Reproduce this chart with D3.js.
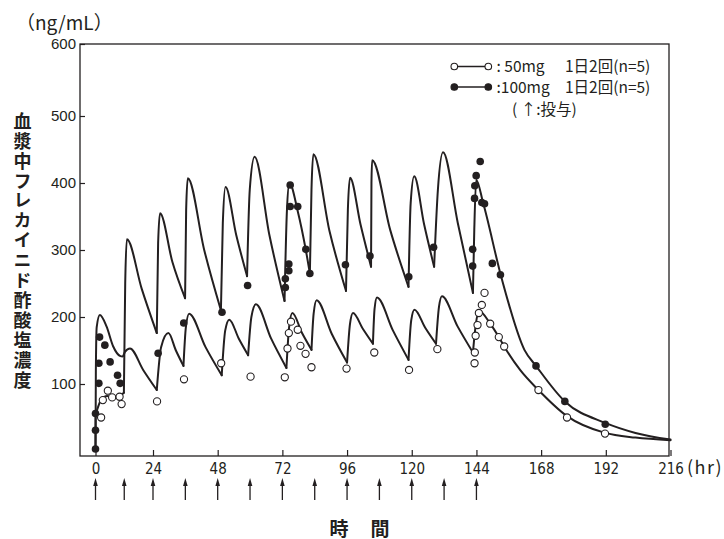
<!DOCTYPE html>
<html>
<head>
<meta charset="utf-8">
<script src="https://cdn.jsdelivr.net/npm/d3@7"></script>
<style>
  html, body { margin: 0; padding: 0; background: #fff; }
  svg { display: block; }
</style>
</head>
<body>
<div id="chart"></div>
<script>
// dosing times (hr) and axis ticks
const doseHours = [0, 12, 24, 36, 48, 60, 72, 84, 96, 108, 120, 132, 144]
const xTicks = [0, 24, 48, 72, 96, 120, 144, 168, 192, 216]
const yTicks = [100, 200, 300, 400, 500, 600]
const yTitle = "血漿中フレカイニド酢酸塩濃度"

// observed means [hr, ng/mL]
const obs50 = [
  [2.35, 50], [3.06, 76], [5.15, 90], [6.95, 80], [10.05, 81], [10.9, 70],
  [25.5, 74], [35.5, 107], [49.3, 131], [60.2, 111],
  [72.9, 110], [73.9, 153], [74.4, 176], [75.2, 193], [77.7, 181], [78.7, 157], [80.6, 145], [82.8, 125],
  [95.8, 123], [106.1, 147], [119, 121], [129.5, 152],
  [143.3, 131], [143.4, 147], [143.7, 172], [144.4, 188], [144.9, 206], [146, 218], [147, 236],
  [149.1, 190], [152.3, 170], [154.3, 156], [167, 91], [177.6, 50], [191.7, 26]
]
const obs100 = [
  [0, 3], [0, 31], [0, 56], [1.4, 101], [1.4, 131], [1.7, 170], [3.9, 158], [6.1, 133], [9.2, 113], [10.3, 101],
  [25.9, 146], [35.4, 191], [49.6, 207], [59.1, 247],
  [73.1, 244], [73.1, 257], [74.4, 269], [74.4, 279], [74.9, 365], [74.9, 397], [77.7, 365], [80.7, 301], [82.2, 265],
  [95.4, 278], [104.5, 291], [118.9, 260], [128.1, 304],
  [142.6, 276], [142.6, 301], [143.3, 377], [143.4, 396], [143.9, 411], [145.4, 432], [146, 371], [147, 369],
  [149.9, 280], [152.9, 263], [166.1, 127], [176.8, 74], [191.8, 40]
]

// simulated curves [hr, ng/mL]
const fit50 = [
  [0, 0], [0.15, 120], [0.5, 185], [1.8, 203], [4.6, 186], [7.4, 156], [10.2, 142], [11.3, 141], [12.3, 148], [14.4, 153], [19.9, 121],
  [25.4, 91], [27.0, 155], [29.7, 176], [32.5, 150],
  [35.3, 127], [36.2, 185], [37.4, 205], [43.5, 155],
  [49.5, 113], [50.8, 180], [52.3, 196], [55.8, 168],
  [59.3, 143], [60.5, 200], [62.2, 219], [67.8, 168],
  [73.5, 124], [74.5, 185], [75.7, 206], [79.3, 176],
  [82.8, 151], [83.6, 205], [84.7, 225], [90.3, 175],
  [96, 132], [97.1, 190], [98.2, 206], [101.9, 182],
  [105.6, 160], [106.2, 212], [107.1, 229], [113, 180],
  [118.8, 136], [119.8, 195], [121, 211], [125, 184],
  [129, 160], [130.1, 215], [131.2, 231], [137, 186],
  [142.7, 147], [143.8, 190], [145, 209], [149.1, 190], [152.3, 170], [154.3, 156], [160.2, 121],
  [167, 91], [177.6, 52], [191.7, 27], [203, 20], [216, 16]
]
const fit50Corners = [25.4, 35.3, 49.5, 59.3, 73.5, 82.8, 96, 105.6, 118.8, 129, 142.7]

const fit100 = [
  [0, 0], [0.05, 54], [2.3, 76], [4.9, 82], [7.2, 80], [10, 82],
  [11.85, 87], [12.4, 250], [13.1, 316], [19.3, 242],
  [25.4, 176], [25.9, 310], [26.6, 355], [31.2, 282],
  [35.9, 228], [36.3, 360], [36.9, 407], [43, 300],
  [49.2, 210], [49.9, 340], [50.9, 394], [54.9, 322],
  [58.9, 261], [59.9, 390], [61.7, 439], [67.2, 322],
  [72.8, 224], [73.7, 360], [74.6, 400], [77.7, 358], [80.7, 300],
  [82.2, 265], [82.8, 390], [83.5, 443], [89.5, 328],
  [95.6, 239], [96.3, 360], [97.1, 408], [101, 338],
  [104.9, 275], [105.05, 400], [105.3, 434], [112, 330],
  [118.8, 245], [119.6, 370], [120.9, 410], [124.6, 338],
  [128.3, 275], [129.7, 390], [131.6, 446], [137.1, 340],
  [142.7, 236], [143.2, 330], [143.9, 405], [146.5, 370], [153.2, 260], [161.8, 151], [166.3, 126],
  [176.8, 74], [191.8, 42], [203, 27], [216, 17]
]
const fit100Corners = [0.05, 11.85, 25.4, 35.9, 49.2, 58.9, 72.8, 82.2, 95.6, 104.9, 118.8, 128.3, 142.7]

const width = 724
const height = 539
const ink = "#231f20"
const numFont = "'Liberation Sans Narrow', 'DejaVu Sans Condensed', sans-serif"
const jpFont = "'Noto Sans CJK JP', 'Noto Sans', sans-serif"

const svg = d3.select("#chart").append("svg")
  .attr("width", width).attr("height", height)
  .attr("viewBox", `0 0 ${width} ${height}`)

const frame = { left: 80, right: 669, top: 44, bottom: 456 }

// the first 24 h are drawn a little compressed in the original
const x = d3.scaleLinear().domain([0, 24, 216]).range([95.5, 153, 670.5])
const y = d3.scaleLinear().domain([0, 500, 600]).range([451, 116, 44])

// axes (inward ticks)
svg.append("g")
  .attr("transform", `translate(0,${frame.bottom})`)
  .call(d3.axisBottom(x).tickValues(xTicks).tickSizeInner(-6).tickSizeOuter(0).tickPadding(7))
  .call(g => g.select(".domain").remove())
  .call(g => g.selectAll(".tick line").attr("stroke", ink).attr("stroke-width", 1.2))
  .call(g => g.selectAll(".tick text").attr("font-family", numFont).attr("font-size", 15).attr("fill", ink))

svg.append("g")
  .attr("transform", `translate(${frame.left},0)`)
  .call(d3.axisLeft(y).tickValues(yTicks).tickSizeInner(-5).tickSizeOuter(0).tickPadding(4))
  .call(g => g.select(".domain").remove())
  .call(g => g.selectAll(".tick line").attr("stroke", ink).attr("stroke-width", 1.2))
  .call(g => g.selectAll(".tick text").attr("font-family", "'Liberation Sans', Arial, sans-serif").attr("font-size", 15).attr("fill", ink))

svg.append("rect")
  .attr("x", frame.left).attr("y", frame.top)
  .attr("width", frame.right - frame.left).attr("height", frame.bottom - frame.top)
  .attr("fill", "none").attr("stroke", ink).attr("stroke-width", 1.3)

// curves: split at the dosing corners so the troughs stay sharp
function splitAt(points, corners) {
  const segs = []
  let cur = []
  points.forEach(p => {
    cur.push(p)
    if (corners.includes(p[0]) && cur.length > 1) {
      segs.push(cur)
      cur = [p]
    }
  })
  if (cur.length > 1) segs.push(cur)
  return segs
}

const line = d3.line()
  .x(d => x(d[0]))
  .y(d => y(d[1]))
  .curve(d3.curveMonotoneX)

const curves = svg.append("g").attr("fill", "none").attr("stroke", ink).attr("stroke-width", 2)
  .attr("stroke-linejoin", "round").attr("stroke-linecap", "round")
curves.selectAll("path.c50").data(splitAt(fit50, fit50Corners)).join("path").attr("class", "c50").attr("d", line)
curves.selectAll("path.c100").data(splitAt(fit100, fit100Corners)).join("path").attr("class", "c100").attr("d", line)

// observed points
svg.append("g").selectAll("circle")
  .data(obs100).join("circle")
  .attr("cx", d => x(d[0])).attr("cy", d => y(d[1])).attr("r", 3.8)
  .attr("fill", ink)

svg.append("g").selectAll("circle")
  .data(obs50).join("circle")
  .attr("cx", d => x(d[0])).attr("cy", d => y(d[1])).attr("r", 3.6)
  .attr("fill", "#fff").attr("stroke", ink).attr("stroke-width", 1.1)

// dosing arrows
const arrows = svg.append("g").attr("fill", ink).attr("stroke", ink)
arrows.selectAll("line").data(doseHours).join("line")
  .attr("x1", d => x(d)).attr("x2", d => x(d))
  .attr("y1", 484).attr("y2", 500).attr("stroke-width", 1.3)
arrows.selectAll("path").data(doseHours).join("path")
  .attr("stroke", "none")
  .attr("d", d => `M${x(d)},478L${x(d) + 2.3},486L${x(d) - 2.3},486Z`)

// axis titles
svg.append("text")
  .attr("x", 16).attr("y", 29.5)
  .attr("font-family", jpFont).attr("font-size", 19).attr("fill", ink)
  .text("（ng/mL）")

svg.append("text")
  .attr("x", 687).attr("y", 474)
  .attr("font-family", jpFont).attr("font-size", 18).attr("letter-spacing", 1.5).attr("fill", ink)
  .text("(hr)")

// vertical title, one column
svg.append("text")
  .attr("x", 22.5).attr("y", 112)
  .attr("writing-mode", "vertical-rl")
  .attr("letter-spacing", 1.9)
  .attr("font-family", jpFont).attr("font-size", 18).attr("font-weight", "bold").attr("fill", ink)
  .text(yTitle)

svg.append("g").selectAll("text")
  .data([["時", 339], ["間", 380]]).join("text")
  .attr("x", d => d[1]).attr("y", 527)
  .attr("text-anchor", "middle").attr("dominant-baseline", "central")
  .attr("font-family", jpFont).attr("font-size", 19).attr("font-weight", "bold").attr("fill", ink)
  .text(d => d[0])

// legend
const legend = svg.append("g").attr("font-family", jpFont).attr("font-size", 15.5).attr("fill", ink)
const legendRows = [
  { cy: 66.5, fill: "#fff", dose: ": 50mg" },
  { cy: 87, fill: ink, dose: ":100mg" }
]
legendRows.forEach(r => {
  legend.append("line").attr("x1", 454.3).attr("x2", 488.3).attr("y1", r.cy).attr("y2", r.cy)
    .attr("stroke", ink).attr("stroke-width", 1.5)
  ;[454.3, 488.3].forEach(cx => {
    legend.append("circle").attr("cx", cx).attr("cy", r.cy).attr("r", 3.3)
      .attr("fill", r.fill).attr("stroke", ink).attr("stroke-width", 1.1)
  })
  legend.append("text").attr("x", 496.5).attr("y", r.cy + 5.5).text(r.dose)
  legend.append("text").attr("x", 565).attr("y", r.cy + 5.5).text("1日2回(n=5)")
})
legend.append("text").attr("x", 512).attr("y", 115).text("( ↑:投与)")
</script>
</body>
</html>
